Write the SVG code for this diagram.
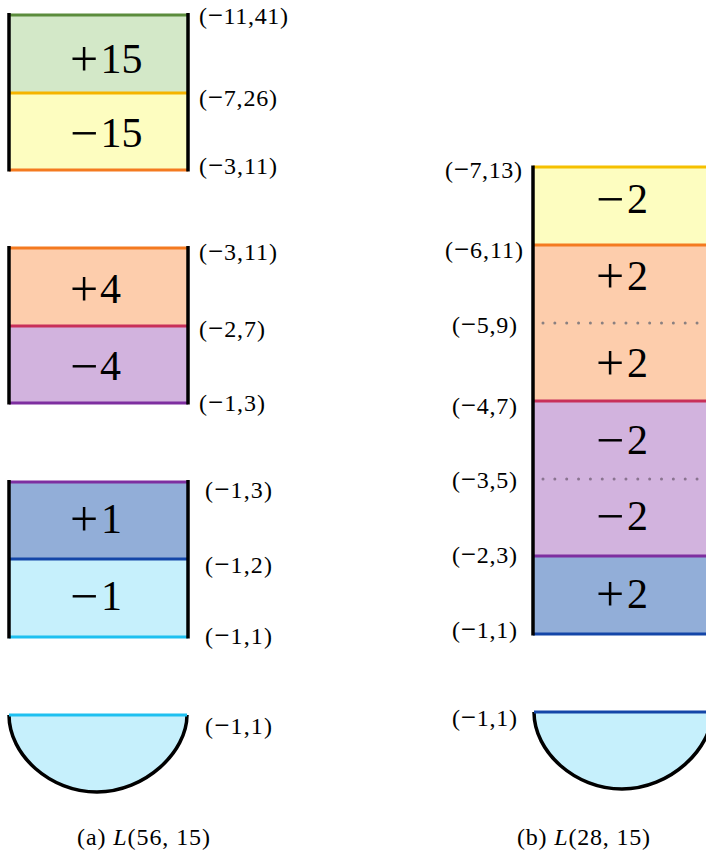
<svg xmlns="http://www.w3.org/2000/svg" width="706" height="853" viewBox="0 0 706 853">
<style>
.side{stroke:#000;stroke-width:3.5;fill:none}
.hl{stroke-width:3;fill:none}
.lbl{font-family:"Liberation Serif",serif;font-size:24px;fill:#000}
.lbl .m{font-size:27px}
.num{font-family:"Liberation Serif",serif;font-size:42px;fill:#000}
.sg{font-family:"Liberation Serif",serif;font-size:50px;fill:#000}
.cap{font-family:"Liberation Serif",serif;font-size:24px;fill:#000}
.dot{stroke-width:3;stroke-linecap:round;stroke-dasharray:0 11.85;fill:none}
.bowl{fill:#c6f0fc;stroke:#000;stroke-width:3.5}
</style>
<rect width="706" height="853" fill="#fff"/>

<g id="a-plus15">
<rect x="9" y="15" width="179" height="78" fill="#d3e8c8"/>
<text class="sg" x="70" y="76">+</text>
<text class="num" x="100.5" y="73">15</text>
</g>
<g id="a-minus15">
<rect x="9" y="93" width="179" height="77" fill="#fdfdc0"/>
<text class="sg" x="70" y="150">−</text>
<text class="num" x="100.5" y="147">15</text>
</g>
<g id="a-block1-lines">
<line class="hl" x1="9" y1="15" x2="188" y2="15" stroke="#5b8c3c"/>
<line class="hl" x1="9" y1="93" x2="188" y2="93" stroke="#f5b400"/>
<line class="hl" x1="9" y1="170" x2="188" y2="170" stroke="#f47a20"/>
<line class="side" x1="9" y1="13" x2="9" y2="171.5"/>
<line class="side" x1="188" y1="13" x2="188" y2="171.5"/>
<text class="lbl" x="199" y="24" textLength="89" lengthAdjust="spacing">(<tspan class="m">−</tspan>11,41)</text>
<text class="lbl" x="199" y="106" textLength="78" lengthAdjust="spacing">(<tspan class="m">−</tspan>7,26)</text>
<text class="lbl" x="199" y="174" textLength="78" lengthAdjust="spacing">(<tspan class="m">−</tspan>3,11)</text>
</g>

<g id="a-plus4">
<rect x="9" y="248" width="179" height="78" fill="#fdcdac"/>
<text class="sg" x="70" y="306">+</text>
<text class="num" x="100" y="303">4</text>
</g>
<g id="a-minus4">
<rect x="9" y="326" width="179" height="77" fill="#d2b3de"/>
<text class="sg" x="70" y="383">−</text>
<text class="num" x="100" y="380">4</text>
</g>
<g id="a-block2-lines">
<line class="hl" x1="9" y1="248" x2="188" y2="248" stroke="#f47a20"/>
<line class="hl" x1="9" y1="326" x2="188" y2="326" stroke="#c8305a"/>
<line class="hl" x1="9" y1="403" x2="188" y2="403" stroke="#7e2fa0"/>
<line class="side" x1="9" y1="246" x2="9" y2="404.5"/>
<line class="side" x1="188" y1="246" x2="188" y2="404.5"/>
<text class="lbl" x="199" y="260" textLength="78" lengthAdjust="spacing">(<tspan class="m">−</tspan>3,11)</text>
<text class="lbl" x="199" y="337" textLength="66" lengthAdjust="spacing">(<tspan class="m">−</tspan>2,7)</text>
<text class="lbl" x="199" y="411" textLength="66" lengthAdjust="spacing">(<tspan class="m">−</tspan>1,3)</text>
</g>

<g id="a-plus1">
<rect x="9" y="482" width="179" height="77" fill="#92aed8"/>
<text class="sg" x="70" y="536">+</text>
<text class="num" x="101" y="533">1</text>
</g>
<g id="a-minus1">
<rect x="9" y="559" width="179" height="78" fill="#c6f0fc"/>
<text class="sg" x="70" y="613">−</text>
<text class="num" x="101" y="610">1</text>
</g>
<g id="a-block3-lines">
<line class="hl" x1="9" y1="482" x2="188" y2="482" stroke="#7e2fa0"/>
<line class="hl" x1="9" y1="559" x2="188" y2="559" stroke="#1446a8"/>
<line class="hl" x1="9" y1="637" x2="188" y2="637" stroke="#1ec0f0"/>
<line class="side" x1="9" y1="480" x2="9" y2="638.5"/>
<line class="side" x1="188" y1="480" x2="188" y2="638.5"/>
<text class="lbl" x="205" y="498" textLength="67" lengthAdjust="spacing">(<tspan class="m">−</tspan>1,3)</text>
<text class="lbl" x="205" y="573" textLength="67" lengthAdjust="spacing">(<tspan class="m">−</tspan>1,2)</text>
<text class="lbl" x="205" y="644" textLength="67" lengthAdjust="spacing">(<tspan class="m">−</tspan>1,1)</text>
</g>

<g id="a-bowl">
<path class="bowl" d="M9,715 C9,755 50,792 97,792 C145,792 187,752 187,715"/>
<line class="hl" x1="9" y1="715" x2="187" y2="715" stroke="#1ec0f0"/>
<text class="lbl" x="205" y="734" textLength="67" lengthAdjust="spacing">(<tspan class="m">−</tspan>1,1)</text>
</g>
<g id="a-caption">
<text class="cap" x="77" y="845" textLength="133" lengthAdjust="spacing">(a) <tspan font-style="italic">L</tspan>(56, 15)</text>
</g>

<g id="b-minus2-top">
<rect x="533" y="167" width="180" height="78" fill="#fdfdc0"/>
<text class="sg" x="596" y="216">−</text>
<text class="num" x="627" y="213">2</text>
</g>
<g id="b-plus2-a">
<rect x="533" y="245" width="180" height="78" fill="#fdcdac"/>
<text class="sg" x="596" y="293">+</text>
<text class="num" x="627" y="290">2</text>
</g>
<g id="b-plus2-b">
<rect x="533" y="323" width="180" height="78" fill="#fdcdac"/>
<text class="sg" x="596" y="380">+</text>
<text class="num" x="627" y="377">2</text>
</g>
<g id="b-minus2-a">
<rect x="533" y="401" width="180" height="78" fill="#d2b3de"/>
<text class="sg" x="596" y="457">−</text>
<text class="num" x="627" y="454">2</text>
</g>
<g id="b-minus2-b">
<rect x="533" y="479" width="180" height="77" fill="#d2b3de"/>
<text class="sg" x="596" y="533">−</text>
<text class="num" x="627" y="530">2</text>
</g>
<g id="b-plus2-c">
<rect x="533" y="556" width="180" height="78" fill="#92aed8"/>
<text class="sg" x="596" y="611">+</text>
<text class="num" x="627" y="608">2</text>
</g>
<g id="b-lines">
<line class="hl" x1="533" y1="167" x2="713" y2="167" stroke="#f5c000"/>
<line class="hl" x1="533" y1="245" x2="713" y2="245" stroke="#f47a20"/>
<line class="dot" x1="543" y1="323" x2="713" y2="323" stroke="#8a8080"/>
<line class="hl" x1="533" y1="401" x2="713" y2="401" stroke="#c8305a"/>
<line class="dot" x1="543" y1="479" x2="713" y2="479" stroke="#8a7490"/>
<line class="hl" x1="533" y1="556" x2="713" y2="556" stroke="#7e2fa0"/>
<line class="hl" x1="533" y1="634" x2="713" y2="634" stroke="#1446a8"/>
<line class="side" x1="533" y1="165.5" x2="533" y2="635.5"/>
<text class="lbl" x="445" y="178" textLength="77" lengthAdjust="spacing">(<tspan class="m">−</tspan>7,13)</text>
<text class="lbl" x="445" y="258" textLength="78" lengthAdjust="spacing">(<tspan class="m">−</tspan>6,11)</text>
<text class="lbl" x="452" y="333" textLength="65" lengthAdjust="spacing">(<tspan class="m">−</tspan>5,9)</text>
<text class="lbl" x="452" y="414" textLength="65" lengthAdjust="spacing">(<tspan class="m">−</tspan>4,7)</text>
<text class="lbl" x="452" y="488" textLength="65" lengthAdjust="spacing">(<tspan class="m">−</tspan>3,5)</text>
<text class="lbl" x="452" y="563" textLength="65" lengthAdjust="spacing">(<tspan class="m">−</tspan>2,3)</text>
<text class="lbl" x="452" y="638" textLength="65" lengthAdjust="spacing">(<tspan class="m">−</tspan>1,1)</text>
</g>

<g id="b-bowl">
<path class="bowl" d="M534,712 C534,752 575,789 622,789 C670,789 712,749 712,712"/>
<line class="hl" x1="534" y1="712" x2="712" y2="712" stroke="#1446a8"/>
<text class="lbl" x="452" y="726" textLength="65" lengthAdjust="spacing">(<tspan class="m">−</tspan>1,1)</text>
</g>
<g id="b-caption">
<text class="cap" x="517" y="845" textLength="133" lengthAdjust="spacing">(b) <tspan font-style="italic">L</tspan>(28, 15)</text>
</g>
</svg>
